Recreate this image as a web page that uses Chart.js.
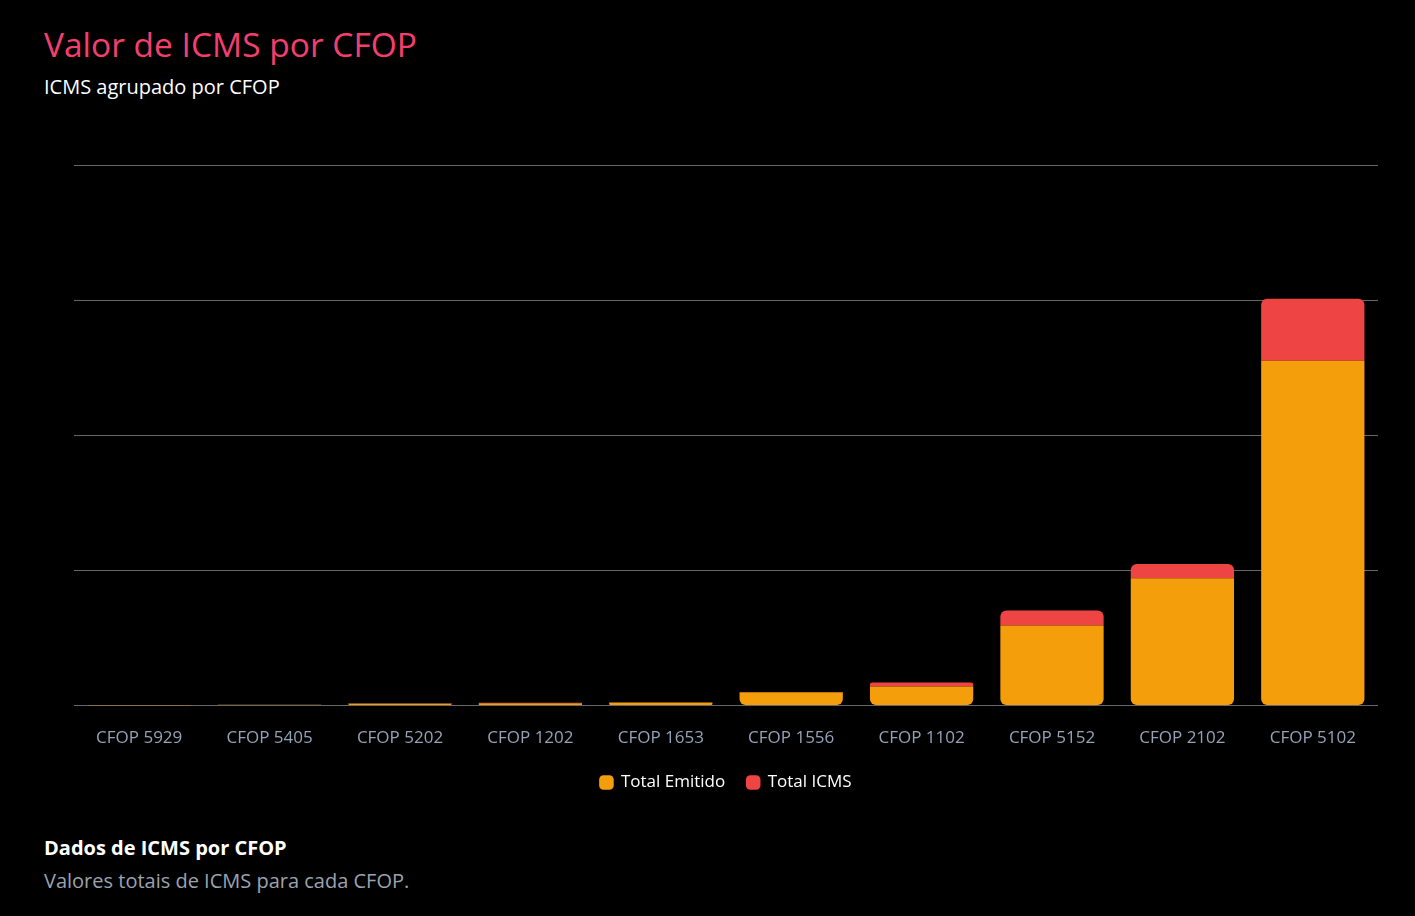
<!DOCTYPE html>
<html>
<head>
<meta charset="utf-8">
<script src="https://cdn.jsdelivr.net/npm/chart.js@4"></script>
<style>
  body { margin: 0; background: #000; width: 1415px; height: 916px; overflow: hidden; font-family: "Open Sans", sans-serif; }
  .title { position: absolute; left: 44px; top: 21px; font-size: 33.5px; color: #f43f6e; margin: 0; font-weight: 400; }
  .subtitle { position: absolute; left: 44px; top: 73px; font-size: 20px; color: #fff; }
  .chart-box { position: absolute; left: 74px; top: 155px; width: 1304px; height: 646px; }
  .foot-title { position: absolute; left: 44px; top: 834px; font-size: 20px; font-weight: 700; color: #fff; }
  .foot-desc { position: absolute; left: 44px; top: 867px; font-size: 20px; color: #9ca3af; }
</style>
</head>
<body>
<h1 class="title">Valor de ICMS por CFOP</h1>
<div class="subtitle">ICMS agrupado por CFOP</div>
<div class="chart-box"><canvas id="icmsChart"></canvas></div>
<div class="foot-title">Dados de ICMS por CFOP</div>
<div class="foot-desc">Valores totais de ICMS para cada CFOP.</div>
<script>
const cfops = ['CFOP 5929', 'CFOP 5405', 'CFOP 5202', 'CFOP 1202', 'CFOP 1653',
    'CFOP 1556', 'CFOP 1102', 'CFOP 5152', 'CFOP 2102', 'CFOP 5102'];
const totalEmitido = [150, 600, 1500, 1700, 2300, 9850, 14100, 59300, 94300, 255200];
const totalIcms = [0, 0, 0, 450, 0, 0, 3000, 11100, 10400, 45900];

const COLORS = {
    emitido: '#f59e0b',
    icms: '#ef4444',
    grid: '#666666',
    tick: '#94a3b8',
};

let ctx = document.getElementById('icmsChart').getContext('2d');

new Chart(ctx, {
    type: 'bar',
    data: {
        labels: cfops,
        datasets: [
            {
                label: 'Total Emitido',
                data: totalEmitido,
                backgroundColor: COLORS.emitido,
                borderSkipped: false,
                borderRadius: { bottomLeft: 6, bottomRight: 6, topLeft: 0, topRight: 0 },
            },
            {
                label: 'Total ICMS',
                data: totalIcms,
                backgroundColor: COLORS.icms,
                borderSkipped: false,
                borderRadius: { topLeft: 6, topRight: 6, bottomLeft: 0, bottomRight: 0 },
            }
        ]
    },
    options: {
        responsive: true,
        maintainAspectRatio: false,
        animation: false,
        datasets: { bar: { barPercentage: 0.9, categoryPercentage: 0.88 } },
        layout: { padding: { top: 10, left: 0, right: 0, bottom: 0 } },
        scales: {
            x: {
                stacked: true,
                grid: { display: false },
                border: { display: false },
                ticks: { color: COLORS.tick, font: { family: 'Open Sans', size: 17 }, padding: 14 },
                // pull the legend a bit closer to the tick labels
                afterFit: function (axis) { axis.height -= 10; },
            },
            y: {
                stacked: true,
                min: 0,
                max: 400000,
                ticks: { display: false, stepSize: 100000 },
                grid: { color: COLORS.grid, drawTicks: false },
                border: { display: false },
            }
        },
        plugins: {
            legend: {
                position: 'bottom',
                labels: {
                    color: '#ffffff',
                    font: { family: 'Open Sans', size: 17 },
                    usePointStyle: true,
                    pointStyle: 'rectRounded',
                    boxWidth: 12,
                    boxHeight: 12,
                    padding: 22,
                }
            },
            tooltip: { enabled: false }
        }
    }
});
</script>
</body>
</html>
